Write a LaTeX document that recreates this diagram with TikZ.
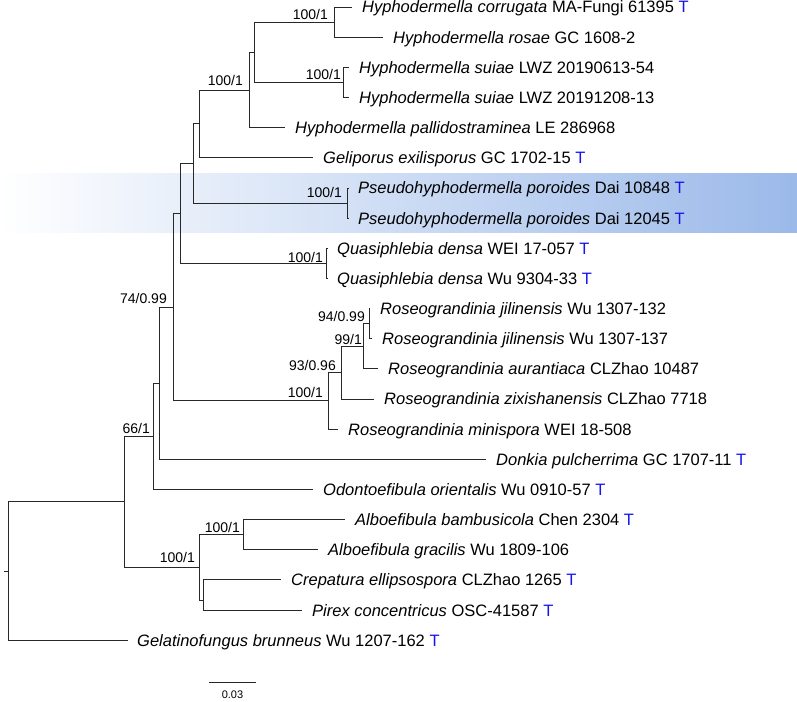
\documentclass[tikz,border=0pt]{standalone}
\usepackage{fontspec}
\setmainfont{Liberation Sans}
\usetikzlibrary{calc}
\definecolor{tblue}{RGB}{20,20,235}
\definecolor{hlblue}{RGB}{155,185,233}
\definecolor{branch}{RGB}{40,40,40}
\newcommand{\tT}{\textcolor{tblue}{T}}
\begin{document}
\begin{tikzpicture}[x=1pt,y=-1pt,
  br/.style={draw=branch,line width=0.8pt},
  leaflab/.style={anchor=base west,inner sep=0pt,font=\fontsize{16.5}{18}\selectfont},
  supp/.style={anchor=base east,inner sep=0pt,font=\fontsize{14}{16}\selectfont},
  scalelab/.style={inner sep=0pt,font=\fontsize{11}{12}\selectfont}
]
\useasboundingbox (0,0) rectangle (797,701);
\fill[left color=white,right color=hlblue] (0,173) rectangle (797,232);
% leaf tips
\coordinate (t0) at (352,7);
\coordinate (t1) at (383,37.15);
\coordinate (t2) at (349,67.3);
\coordinate (t3) at (349,97.45);
\coordinate (t4) at (285,127.6);
\coordinate (t5) at (313,157.75);
\coordinate (t6) at (349,187.9);
\coordinate (t7) at (349,218.05);
\coordinate (t8) at (328,248.2);
\coordinate (t9) at (328,278.35);
\coordinate (t10) at (370,308.5);
\coordinate (t11) at (372,338.65);
\coordinate (t12) at (378,368.8);
\coordinate (t13) at (374,398.95);
\coordinate (t14) at (338,429.1);
\coordinate (t15) at (486,459.25);
\coordinate (t16) at (313,489.4);
\coordinate (t17) at (345,519.55);
\coordinate (t18) at (318,549.7);
\coordinate (t19) at (281,579.85);
\coordinate (t20) at (302,610);
\coordinate (t21) at (128,640.15);
% internal nodes
\coordinate (A) at (334,22.1);
\coordinate (B) at (343,82.4);
\coordinate (C) at (254,52.2);
\coordinate (D) at (249,89.9);
\coordinate (E) at (199,123.8);
\coordinate (P) at (347,203);
\coordinate (F) at (193,163.4);
\coordinate (Q) at (326,263.3);
\coordinate (G) at (180,213.3);
\coordinate (R1) at (369,323.6);
\coordinate (R2) at (363,346.2);
\coordinate (R3) at (341,372.6);
\coordinate (R4) at (328,400.8);
\coordinate (H) at (173,307);
\coordinate (I) at (159,383.1);
\coordinate (J) at (153,436.3);
\coordinate (K) at (243,534.6);
\coordinate (L) at (203,600);
\coordinate (M) at (199,567.3);
\coordinate (N) at (124,501.8);
\coordinate (root) at (8,571);
\coordinate (stub) at (4,571);
% branches
\draw[br] (A) |- (t0); \draw[br] (A) |- (t1);
\draw[br] (B) |- (t2); \draw[br] (B) |- (t3);
\draw[br] (C) |- (A); \draw[br] (C) |- (B);
\draw[br] (D) |- (C); \draw[br] (D) |- (t4);
\draw[br] (E) |- (D); \draw[br] (E) |- (t5);
\draw[br] (P) |- (t6); \draw[br] (P) |- (t7);
\draw[br] (F) |- (E); \draw[br] (F) |- (P);
\draw[br] (Q) |- (t8); \draw[br] (Q) |- (t9);
\draw[br] (G) |- (F); \draw[br] (G) |- (Q);
\draw[br] (R1) |- (t10); \draw[br] (R1) |- (t11);
\draw[br] (R2) |- (R1); \draw[br] (R2) |- (t12);
\draw[br] (R3) |- (R2); \draw[br] (R3) |- (t13);
\draw[br] (R4) |- (R3); \draw[br] (R4) |- (t14);
\draw[br] (H) |- (G); \draw[br] (H) |- (R4);
\draw[br] (I) |- (H); \draw[br] (I) |- (t15);
\draw[br] (J) |- (I); \draw[br] (J) |- (t16);
\draw[br] (K) |- (t17); \draw[br] (K) |- (t18);
\draw[br] (L) |- (t19); \draw[br] (L) |- (t20);
\draw[br] (M) |- (K); \draw[br] (M) |- (L);
\draw[br] (N) |- (J); \draw[br] (N) |- (M);
\draw[br] (root) |- (N); \draw[br] (root) |- (t21);
\draw[br] (stub) -- (root);
% leaf labels
\node[leaflab] (l0) at ($(t0)+(10,6)$) {\textit{Hyphodermella corrugata} MA-Fungi 61395 \tT};
\node[leaflab] (l1) at ($(t1)+(10,6)$) {\textit{Hyphodermella rosae} GC 1608-2};
\node[leaflab] (l2) at ($(t2)+(10,6)$) {\textit{Hyphodermella suiae} LWZ 20190613-54};
\node[leaflab] (l3) at ($(t3)+(10,6)$) {\textit{Hyphodermella suiae} LWZ 20191208-13};
\node[leaflab] (l4) at ($(t4)+(10,6)$) {\textit{Hyphodermella pallidostraminea} LE 286968};
\node[leaflab] (l5) at ($(t5)+(10,6)$) {\textit{Geliporus exilisporus} GC 1702-15 \tT};
\node[leaflab] (l6) at ($(t6)+(9,6)$) {\textit{Pseudohyphodermella poroides} Dai 10848 \tT};
\node[leaflab] (l7) at ($(t7)+(9,6)$) {\textit{Pseudohyphodermella poroides} Dai 12045 \tT};
\node[leaflab] (l8) at ($(t8)+(9,6)$) {\textit{Quasiphlebia densa} WEI 17-057 \tT};
\node[leaflab] (l9) at ($(t9)+(9,6)$) {\textit{Quasiphlebia densa} Wu 9304-33 \tT};
\node[leaflab] (l10) at ($(t10)+(10,6)$) {\textit{Roseograndinia jilinensis} Wu 1307-132};
\node[leaflab] (l11) at ($(t11)+(10,6)$) {\textit{Roseograndinia jilinensis} Wu 1307-137};
\node[leaflab] (l12) at ($(t12)+(10,6)$) {\textit{Roseograndinia aurantiaca} CLZhao 10487};
\node[leaflab] (l13) at ($(t13)+(10,6)$) {\textit{Roseograndinia zixishanensis} CLZhao 7718};
\node[leaflab] (l14) at ($(t14)+(10,6)$) {\textit{Roseograndinia minispora} WEI 18-508};
\node[leaflab] (l15) at ($(t15)+(10,6)$) {\textit{Donkia pulcherrima} GC 1707-11 \tT};
\node[leaflab] (l16) at ($(t16)+(10,6)$) {\textit{Odontoefibula orientalis} Wu 0910-57 \tT};
\node[leaflab] (l17) at ($(t17)+(10,6)$) {\textit{Alboefibula bambusicola} Chen 2304 \tT};
\node[leaflab] (l18) at ($(t18)+(10,6)$) {\textit{Alboefibula gracilis} Wu 1809-106};
\node[leaflab] (l19) at ($(t19)+(10,6)$) {\textit{Crepatura ellipsospora} CLZhao 1265 \tT};
\node[leaflab] (l20) at ($(t20)+(10,6)$) {\textit{Pirex concentricus} OSC-41587 \tT};
\node[leaflab] (l21) at ($(t21)+(9,6)$) {\textit{Gelatinofungus brunneus} Wu 1207-162 \tT};
% support labels
\node[supp] (sA) at ($(A)+(-6,-3)$) {100/1};
\node[supp] (sB) at ($(B)+(-2,-3)$) {100/1};
\node[supp] (sD) at ($(D)+(-6,-4)$) {100/1};
\node[supp] (sP) at ($(P)+(-5,-6)$) {100/1};
\node[supp] (sQ) at ($(Q)+(-3,-1)$) {100/1};
\node[supp] (sH) at ($(H)+(-6,-4)$) {74/0.99};
\node[supp] (sR1) at ($(R1)+(-4,-2)$) {94/0.99};
\node[supp] (sR2) at ($(R2)+(-1,-2)$) {99/1};
\node[supp] (sR3) at ($(R3)+(-5,-2)$) {93/0.96};
\node[supp] (sR4) at ($(R4)+(-5,-3)$) {100/1};
\node[supp] (sJ) at ($(J)+(-3,-3)$) {66/1};
\node[supp] (sK) at ($(K)+(-3,-2)$) {100/1};
\node[supp] (sM) at ($(M)+(-4,-5)$) {100/1};
% scale bar
\coordinate (s1) at (209,682);
\coordinate (s2) at (256,682);
\draw[br] (s1) -- (s2);
\node[scalelab] (sl) at (232.5,695) {0.03};
\end{tikzpicture}
\end{document}
